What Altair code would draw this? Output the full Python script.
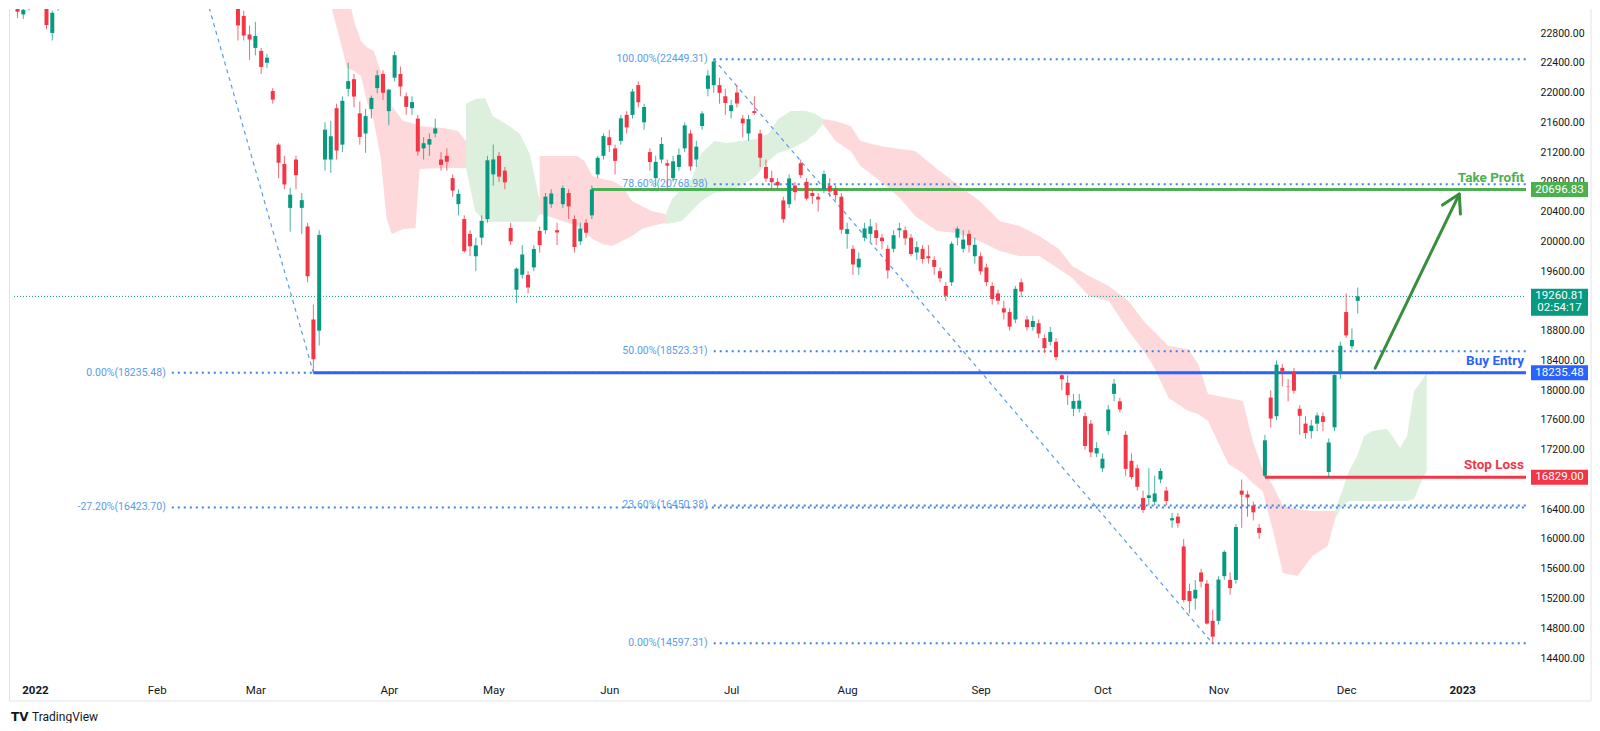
import altair as alt
import pandas as pd

# ---------------- data (Hang Seng daily candles, bar index 0 = first bar of 2022) ----------------
FIRST_BAR = -3
opens = [
    23230, 23050, 23150,
    23500, 23300, 23250, 22800, 23150,
    23600, 23700, 23900, 24500, 24200,
    24300, 24300, 24000, 24300, 24900,
    24900, 24500, 24150, 24200, 23600,
    23700, 24300, 24500, 24600, 24500,
    24900, 24700, 24600, 24500, 24500,
    24800, 24600, 24100, 23800, 23700,
    23400, 23030, 22780, 22600, 22560,
    22400, 22020, 21300, 21040, 20450,
    21100, 20450, 20200, 18950, 18800,
    21100, 21100, 21790, 21300, 22050,
    22180, 21720, 21450, 21780, 22060,
    22250, 21750, 22200, 22250, 21950,
    21790, 21650, 21250, 21300, 21450,
    21100, 21150, 20850, 20500, 20300,
    20100, 19800, 20050, 20300, 20900,
    21150, 20950, 20180, 19350, 19550,
    19550, 19650, 20140, 20150, 20500,
    20150, 20500, 20650, 20300, 20000,
    20250, 20350, 20900, 21150, 21400,
    21250, 21350, 21700, 21700, 22100,
    21600, 21200, 20850, 21100, 21050,
    20850, 21000, 21250, 21450, 21100,
    21550, 22050, 22100, 22100, 21950,
    21750, 22000, 21650, 21450, 21750,
    21450, 21000, 20850, 20800, 20550,
    20500, 20750, 21050, 20800, 20650,
    20600, 20700, 20750, 20700, 20600,
    20100, 19900, 19650, 20050, 20100,
    20150, 20050, 19900, 19900, 20150,
    20150, 20050, 19850, 19900, 19800,
    19750, 19600, 19400, 19450, 20050,
    19900, 20100, 19800, 19800, 19650,
    19400, 19300, 19100, 19050, 18950,
    19450, 18950, 18850, 18900, 18700,
    18650, 18650, 18200, 18100, 17750,
    17750, 17650, 17550, 17150, 16950,
    17450, 17950, 17850, 17400, 17050,
    16950, 16550, 16550, 16500, 16800,
    16650, 16250, 16300, 15900, 15300,
    15200, 15550, 15400, 14900, 14900,
    15500, 15450, 15450, 16650, 16600,
    16450, 16150, 16850, 17900, 17650,
    18300, 18050, 18250, 17750, 17550,
    17450, 17550, 17650, 16900, 17500,
    18250, 19050, 18590, 19200,
]
highs = [
    23290, 23170, 23420,
    23560, 23400, 23300, 23100, 23550,
    23800, 23900, 24450, 24600, 24400,
    24400, 24350, 24200, 25000, 25050,
    24950, 24550, 24400, 24250, 23750,
    23850, 24650, 24700, 24650, 24900,
    24970, 24950, 24700, 24550, 24800,
    24900, 24650, 24250, 23850, 23800,
    23450, 23100, 22900, 22950, 22600,
    22520, 22060, 21320, 21150, 20720,
    21150, 20650, 20250, 19150, 20150,
    21600, 21620, 21850, 21950, 22400,
    22250, 21880, 21780, 21960, 22300,
    22300, 22050, 22550, 22350, 22000,
    21950, 21700, 21400, 21450, 21650,
    21200, 21250, 20900, 20700, 20350,
    20150, 20050, 20350, 21150, 21300,
    21200, 21000, 20250, 19650, 19950,
    19600, 19950, 20200, 20650, 20700,
    20250, 20750, 20700, 20350, 20250,
    20300, 20750, 21150, 21450, 21500,
    21300, 21700, 21750, 22050, 22150,
    21850, 21250, 21150, 21400, 21100,
    21150, 21250, 21600, 21500, 21350,
    21750, 22300, 22449.31, 22200, 22050,
    21900, 22100, 21700, 21700, 21950,
    21500, 21100, 20950, 20850, 20600,
    20900, 20800, 21100, 20850, 20700,
    20650, 20950, 20850, 20750, 20650,
    20250, 19950, 19850, 20250, 20300,
    20250, 20100, 19950, 20150, 20250,
    20200, 20100, 20000, 19950, 19950,
    19800, 19650, 19450, 20000, 20200,
    20150, 20150, 20050, 19850, 19700,
    19450, 19350, 19200, 19100, 19400,
    19500, 19000, 19000, 18950, 18750,
    18850, 18700, 18250, 18200, 17950,
    17950, 17700, 17600, 17300, 17150,
    17800, 18150, 17900, 17450, 17150,
    17000, 16650, 16950, 16850, 16950,
    16700, 16350, 16350, 16000, 15400,
    15450, 15600, 15450, 15050, 15500,
    15850, 15550, 16200, 16800, 16650,
    16500, 16200, 17400, 18000, 18400,
    18350, 18150, 18300, 17800, 17650,
    17600, 17700, 17700, 17350, 18250,
    18650, 19300, 18830, 19380,
]
lows = [
    23000, 22990, 23100,
    23150, 23180, 22850, 22700, 23100,
    23450, 23550, 23850, 24300, 24100,
    24100, 24000, 23900, 24200, 24800,
    24600, 24150, 24050, 23650, 23450,
    23600, 24200, 24400, 24200, 24450,
    24750, 24600, 24400, 24250, 24450,
    24650, 24250, 23950, 23450, 23500,
    22700, 22700, 22440, 22500, 22250,
    22330, 21850, 20850, 20700, 20130,
    20700, 20100, 19450, 18235.48, 18600,
    20950, 20920, 21100, 21200, 21950,
    21800, 21300, 21190, 21650, 21990,
    21900, 21560, 22150, 21950, 21700,
    21700, 21150, 21100, 21150, 21400,
    20950, 20950, 20600, 20350, 19850,
    19800, 19600, 19950, 20250, 20750,
    20800, 20700, 19950, 19170, 19500,
    19300, 19600, 19850, 20100, 20450,
    19950, 20450, 20300, 19850, 19950,
    20050, 20300, 20850, 21100, 21200,
    20900, 21300, 21450, 21650, 21800,
    21500, 20950, 20750, 21050, 20700,
    20800, 20950, 21200, 20950, 21000,
    21500, 21950, 22000, 21850, 21700,
    21650, 21800, 21400, 21350, 21700,
    21000, 20800, 20700, 20700, 20250,
    20450, 20550, 20850, 20550, 20500,
    20400, 20650, 20600, 20550, 20100,
    19900, 19550, 19550, 20000, 20000,
    19950, 19900, 19500, 19850, 20050,
    19950, 19800, 19750, 19700, 19700,
    19550, 19450, 19200, 19400, 19950,
    19850, 19850, 19700, 19550, 19400,
    19150, 19150, 18950, 18800, 18900,
    19250, 18800, 18800, 18700, 18500,
    18600, 18400, 18000, 17800, 17650,
    17700, 17200, 17100, 17100, 16900,
    17400, 17850, 17700, 16850, 16800,
    16650, 16350, 16450, 16450, 16750,
    16450, 16150, 16150, 15150, 15000,
    15050, 15350, 14850, 14597.31, 14850,
    15450, 15250, 15400, 16150, 16300,
    16250, 16000, 16829, 17500, 17600,
    18050, 17850, 17950, 17400, 17350,
    17350, 17450, 17450, 16829, 17450,
    18150, 18700, 18550, 19030,
]
closes = [
    23086, 23112, 23398,
    23274, 23289, 22907, 23072, 23493,
    23746, 23739, 24402, 24429, 24383,
    24218, 24112, 24127, 24952, 24966,
    24656, 24243, 24289, 23807, 23550,
    23802, 24573, 24579, 24329, 24830,
    24924, 24906, 24556, 24355, 24718,
    24792, 24328, 24170, 23520, 23660,
    22902, 22767, 22713, 22761, 22344,
    22467, 21905, 21057, 20765, 20627,
    20890, 20554, 19531, 18415, 20087,
    21501, 21412, 21221, 21889, 22154,
    21946, 21404, 21684, 21928, 22232,
    21997, 22039, 22502, 22080, 21808,
    21872, 21208, 21319, 21374, 21518,
    21027, 21070, 20682, 20638, 19869,
    19934, 19946, 20276, 21089, 21101,
    20870, 20793, 20001, 19633, 19824,
    19380, 19898, 19950, 20602, 20644,
    20120, 20717, 20470, 19924, 20171,
    20116, 20697, 21123, 21415, 21294,
    21082, 21653, 21531, 22014, 21869,
    21806, 21067, 21068, 21308, 21017,
    21075, 21163, 21559, 21008, 21273,
    21719, 22229, 22418, 21996, 21860,
    21830, 21853, 21587, 21643, 21725,
    21124, 20844, 20797, 20751, 20297,
    20846, 20661, 20890, 20575, 20609,
    20562, 20905, 20670, 20622, 20157,
    20165, 19690, 19767, 20174, 20201,
    20045, 20003, 19610, 20082, 20175,
    20040, 19830, 19922, 19763, 19773,
    19657, 19503, 19268, 19968, 20170,
    20023, 19949, 19954, 19597, 19452,
    19225, 19202, 19044, 18854, 19362,
    19326, 18847, 18930, 18761, 18565,
    18781, 18444, 18147, 17933, 17855,
    17860, 17250, 17165, 17222, 17079,
    17740, 18087, 17740, 16943, 16832,
    16701, 16389, 16587, 16612, 16914,
    16511, 16280, 16211, 15180, 15165,
    15317, 15427, 14863, 14687, 15455,
    15827, 15339, 16161, 16595, 16557,
    16358, 16081, 17326, 17619, 18343,
    18256, 18045, 17993, 17656, 17424,
    17524, 17660, 17573, 17297, 18204,
    18597, 18736, 18675, 19260.81,
]
bars = list(range(FIRST_BAR, FIRST_BAR + len(closes)))

# x axis: first bar of each month
month_bars = [0, 21, 38, 61, 79, 99, 120, 140, 163, 184, 204, 226, 246]
month_labels = ["2022", "Feb", "Mar", "Apr", "May", "Jun", "Jul", "Aug", "Sep", "Oct", "Nov", "Dec", "2023"]
year_bars = [0, 246]
# price scale labels (19200 and 16800 are covered by the price tags in the original)
price_ticks = [14400, 14800, 15200, 15600, 16000, 16400, 17200, 17600, 18000, 18400, 18800,
               19600, 20000, 20400, 20800, 21200, 21600, 22000, 22400, 22800, 23200]

# Ichimoku cloud segments (bar index, upper span, lower span)
cloud_kinds = ["bear", "bull", "bear", "bull", "bear", "bull"]
cloud_bars = [
    [51.2, 52.4, 53.8, 55.0, 56.2, 57.2, 58.4, 59.6, 60.6, 61.5, 63.5, 65.6, 66.3, 70.4, 72.9, 74.3],
    [74.3, 75.9, 77.6, 78.9, 81.8, 83.6, 85.3, 86.3, 87.0],
    [87.0, 88.4, 90.9, 93.5, 94.7, 96.1, 97.8, 99.5, 101.2, 102.9, 104.6, 106.3, 108.6],
    [108.6, 109.8, 111.5, 113.2, 114.9, 117.1, 119.2, 121.7, 124.3, 126.4, 128.1, 130.3, 132.9, 134.6, 135.8],
    [135.8, 138.0, 140.6, 142.3, 145.7, 149.1, 151.7, 155.5, 158.9, 162.8, 166.3, 169.7, 173.1, 176.5,
     178.8, 181.7, 185.1, 188.5, 191.1, 192.8, 195.4, 198.8, 200.5, 202.2, 205.7, 208.2, 209.9, 211.6,
     213.4, 215.1, 217.6, 220.2, 222.8, 224.1],
    [224.1, 225.3, 226.5, 227.9, 229.1, 230.5, 233.0, 234.2, 235.3, 236.5, 237.7, 239.0, 239.9],
]
cloud_upper = [
    [23500, 23500, 23400, 22961, 22692, 22612, 22558, 22289, 22020, 21819, 21617, 21577, 21550, 21523, 21483, 21348],
    [21846, 21913, 21926, 21684, 21550, 21443, 21174, 20811, 20542],
    [21147, 21147, 21147, 21147, 21080, 20878, 20838, 20811, 20744, 20542, 20475, 20408, 20367],
    [20340, 20569, 20703, 20838, 21187, 21348, 21322, 21348, 21375, 21443, 21644, 21752, 21752, 21711, 21644],
    [21644, 21617, 21550, 21348, 21281, 21241, 21214, 20972, 20770, 20542, 20273, 20206, 20072, 19897,
     19668, 19534, 19400, 19198, 18929, 18795, 18593, 18553, 18351, 17948, 17894, 17854, 17316, 16940,
     16712, 16443, 16402, 16376, 16376, 16376],
    [16376, 16644, 16913, 17115, 17384, 17451, 17478, 17357, 17222, 17384, 17988, 18123, 18230],
]
cloud_lower = [
    [23122, 22760, 22330, 22289, 22222, 21886, 21617, 21120, 20314, 20099, 20166, 20179, 20972, 20986, 20986, 20986],
    [20986, 20400, 20263, 20263, 20263, 20263, 20263, 20263, 20367],
    [20367, 20340, 20273, 20206, 20139, 20031, 19964, 19937, 20004, 20072, 20166, 20206, 20246],
    [20233, 20246, 20273, 20408, 20542, 20650, 20676, 20744, 20878, 21080, 21187, 21241, 21348, 21456, 21577],
    [21577, 21348, 21214, 21012, 20811, 20582, 20340, 20139, 20112, 20004, 19870, 19803, 19803, 19628,
     19507, 19265, 19198, 18795, 18526, 18324, 17894, 17720, 17680, 17585, 17007, 16886, 16752, 16644,
     16107, 15542, 15502, 15771, 15905, 16268],
    [16268, 16443, 16510, 16510, 16510, 16510, 16510, 16510, 16510, 16510, 16537, 16779, 16913],
]

# Fibonacci tools
fib1_anchor_bars = [23.6, 48]
fib1_anchor_prices = [24896.5, 18235.48]
fib1_levels = [0.0, -27.2]
fib1_prices = [18235.48, 16423.70]
fib2_anchor_bars = [117, 203]
fib2_anchor_prices = [22449.31, 14597.31]
fib2_levels = [100.0, 78.6, 50.0, 23.6, 0.0]
fib2_prices = [22449.31, 20768.98, 18523.31, 16450.38, 14597.31]

# trade plan
trade_names = ["Take Profit", "Buy Entry", "Stop Loss"]
trade_prices = [20696.83, 18235.48, 16829.00]
trade_start_bars = [96, 48, 212]
trade_colors = ["#4CAF50", "#2962FF", "#F23645"]
last_price = 19260.81
countdown = "02:54:17"
arrow_bars = [231.0, 245.5]
arrow_prices = [18297, 20636]
arrowhead_bars = [242.6, 245.5, 245.7]
arrowhead_prices = [20488, 20636, 20367]

# ---------------- chart ----------------
X_MIN, X_MAX = -3.6, 257.0
W, H = 1522, 668
UP, DOWN = "#089981", "#F23645"
FIB_DOT, FIB_TXT = "#3d84e6", "#5b9be9"
FONT = "Roboto"

xs = alt.Scale(domain=[X_MIN, X_MAX], nice=False, zero=False)
ys = alt.Scale(domain=[14145, 23123], nice=False, zero=False)

label_expr = " : ".join(f"datum.value == {b} ? '{l}'" for b, l in zip(month_bars, month_labels)) + " : ''"
bold_test = " || ".join(f"datum.value == {b}" for b in year_bars)
xaxis = alt.Axis(values=month_bars, labelExpr=label_expr, title=None, grid=False, domain=False,
                 ticks=False, labelPadding=7, labelFontSize=11.5, labelColor="#131722", labelFont=FONT,
                 labelFlush=False, labelOverlap=False,
                 labelFontWeight={"condition": {"test": bold_test, "value": "bold"}, "value": "normal"})
yaxis = alt.Axis(orient="right", values=price_ticks, format=".2f", title=None, grid=False, domain=False,
                 ticks=False, labelPadding=9, labelFontSize=10.5, labelColor="#131722", labelFont=FONT,
                 labelFlush=False, labelOverlap=False)


def X(f):
    return alt.X(f, type="quantitative", scale=xs, axis=xaxis)


def Y(f):
    return alt.Y(f, type="quantitative", scale=ys, axis=yaxis)


candles = pd.DataFrame({"i": bars, "o": opens, "h": highs, "l": lows, "c": closes})

rows = []
for s, (k, bs, us, ls) in enumerate(zip(cloud_kinds, cloud_bars, cloud_upper, cloud_lower)):
    for b, u, lo in zip(bs, us, ls):
        rows.append({"seg": s, "kind": k, "i": b, "top": u, "bot": lo})
cloud = pd.DataFrame(rows)

layers = []
for kind, col in [("bear", "#F23645"), ("bull", "#4CAF50")]:
    layers.append(
        alt.Chart(cloud).transform_filter(f"datum.kind == '{kind}'")
        .mark_area(clip=True, color=col, opacity=0.19, interpolate="linear")
        .encode(x=X("i"), y=Y("top"), y2="bot", detail="seg:N")
    )

# fib level dotted lines
fib_lines = pd.DataFrame({
    "x0": [fib1_anchor_bars[0]] * len(fib1_prices) + [fib2_anchor_bars[0]] * len(fib2_prices),
    "x1": [X_MAX] * (len(fib1_prices) + len(fib2_prices)),
    "p": fib1_prices + fib2_prices,
})
layers.append(alt.Chart(fib_lines).mark_rule(color=FIB_DOT, strokeWidth=2, strokeDash=[2, 4])
              .encode(x=X("x0"), x2="x1", y=Y("p")))

fib_diag = pd.DataFrame({
    "seg": [1, 1, 2, 2],
    "i": fib1_anchor_bars + fib2_anchor_bars,
    "p": fib1_anchor_prices + fib2_anchor_prices,
})
layers.append(alt.Chart(fib_diag).mark_line(color=FIB_TXT, strokeWidth=1.2, strokeDash=[4, 4], clip=True)
              .encode(x=X("i"), y=Y("p"), detail="seg:N"))

fib_text = pd.DataFrame({
    "i": [fib1_anchor_bars[0]] * len(fib1_prices) + [fib2_anchor_bars[0]] * len(fib2_prices),
    "p": fib1_prices + fib2_prices,
    "t": [f"{lv:.2f}%({p:.2f})" for lv, p in zip(fib1_levels + fib2_levels, fib1_prices + fib2_prices)],
})
layers.append(alt.Chart(fib_text).mark_text(align="right", baseline="middle", dx=-6, fontSize=10.5,
                                             font=FONT, color=FIB_TXT)
              .encode(x=X("i"), y=Y("p"), text="t:N"))

# current price dotted line
cur = pd.DataFrame({"x0": [X_MIN], "x1": [X_MAX], "p": [last_price]})
layers.append(alt.Chart(cur).mark_rule(color=UP, strokeWidth=1, strokeDash=[1, 2])
              .encode(x=X("x0"), x2="x1", y=Y("p")))

# trade lines
trades = pd.DataFrame({"name": trade_names, "p": trade_prices, "x0": trade_start_bars,
                       "x1": [X_MAX] * 3, "col": trade_colors,
                       "lbl": [f"{p:.2f}" for p in trade_prices]})
layers.append(alt.Chart(trades).mark_rule(strokeWidth=3)
              .encode(x=X("x0"), x2="x1", y=Y("p"), color=alt.Color("col:N", scale=None)))

# candles
for cond, col in [("datum.c >= datum.o", UP), ("datum.c < datum.o", DOWN)]:
    layers.append(alt.Chart(candles).transform_filter(cond)
                  .mark_rule(clip=True, color=col, strokeWidth=1, opacity=0.75)
                  .encode(x=X("i"), y=Y("l"), y2="h"))
    layers.append(alt.Chart(candles).transform_filter(cond)
                  .mark_bar(clip=True, color=col, size=4)
                  .encode(x=X("i"), y=Y("o"), y2="c"))

# arrow
arrow = pd.DataFrame({
    "seg": [0, 0, 1, 1, 1],
    "ord": [0, 1, 0, 1, 2],
    "i": arrow_bars + arrowhead_bars,
    "p": arrow_prices + arrowhead_prices,
})
layers.append(alt.Chart(arrow).mark_line(color="#388E3C", strokeWidth=3, strokeCap="round", strokeJoin="round")
              .encode(x=X("i"), y=Y("p"), detail="seg:N", order="ord:Q"))

# trade labels
layers.append(alt.Chart(trades).mark_text(align="right", baseline="middle", dy=-12, fontSize=13.5,
                                           fontWeight="bold", font=FONT)
              .encode(x=alt.value(1515), y=Y("p"), text="name:N", color=alt.Color("col:N", scale=None)))

# price tags
layers.append(alt.Chart(trades).mark_rect(yOffset=-7.5, y2Offset=7.5)
              .encode(x=alt.value(W), x2=alt.value(W + 57), y=Y("p"), y2="p",
                      color=alt.Color("col:N", scale=None)))
layers.append(alt.Chart(trades).mark_text(align="center", baseline="middle", fontSize=11.5, font=FONT,
                                           color="white")
              .encode(x=alt.value(W + 28.5), y=Y("p"), text="lbl:N"))
last_df = pd.DataFrame({"p": [last_price], "t1": [f"{last_price:.2f}"], "t2": [countdown]})
layers.append(alt.Chart(last_df).mark_rect(yOffset=-7.5, y2Offset=19.5, color=UP)
              .encode(x=alt.value(W), x2=alt.value(W + 57), y=Y("p"), y2="p"))
layers.append(alt.Chart(last_df).mark_text(align="center", baseline="middle", fontSize=11.5, font=FONT,
                                            color="white")
              .encode(x=alt.value(W + 28.5), y=Y("p"), text="t1:N"))
layers.append(alt.Chart(last_df).mark_text(align="center", baseline="middle", dy=12, fontSize=11.5,
                                            font=FONT, color="white")
              .encode(x=alt.value(W + 28.5), y=Y("p"), text="t2:N"))

# frame + logo
one = pd.DataFrame({"k": [0]})
frame_col = "#E0E3EB"
layers.append(alt.Chart(one).mark_rule(color=frame_col, strokeWidth=1)
              .encode(x=alt.value(0.5), y=alt.value(0), y2=alt.value(692)))
layers.append(alt.Chart(one).mark_rule(color=frame_col, strokeWidth=1)
              .encode(x=alt.value(0), x2=alt.value(1582), y=alt.value(692)))
layers.append(alt.Chart(one).mark_rule(color=frame_col, strokeWidth=1)
              .encode(x=alt.value(1582), y=alt.value(0), y2=alt.value(692)))
layers.append(alt.Chart(one).mark_text(align="left", baseline="middle", fontSize=12, fontWeight=900,
                                        font="DejaVu Sans", color="#131722", text="TV")
              .encode(x=alt.value(2), y=alt.value(708)))
layers.append(alt.Chart(one).mark_text(align="left", baseline="middle", fontSize=12, font=FONT,
                                        color="#131722", text="TradingView")
              .encode(x=alt.value(23), y=alt.value(708)))

chart = (alt.layer(*layers)
         .resolve_scale(color="independent")
         .properties(width=W, height=H, padding=0, background="white")
         .configure_view(strokeWidth=0))

chart.save("out.html", embed_options={"renderer": "svg", "actions": False})
